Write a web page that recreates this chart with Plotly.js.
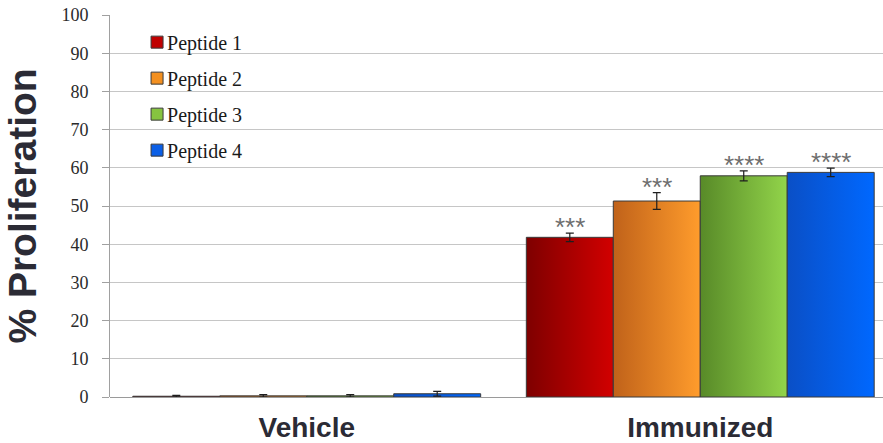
<!DOCTYPE html>
<html>
<head>
<meta charset="utf-8">
<script src="https://cdn.plot.ly/plotly-3.0.1.min.js"></script>
<style>
  html, body { margin: 0; padding: 0; background: #ffffff; }
  #chart { width: 883px; height: 443px; }
</style>
</head>
<body>
<div id="chart"></div>
<script>
// Groups on the x axis and the four peptide series (% proliferation, mean ± error)
const groups = ['Vehicle', 'Immunized'];
const seriesNames = ['Peptide 1', 'Peptide 2', 'Peptide 3', 'Peptide 4'];

const peptide1 = [0.2, 41.8];
const peptide2 = [0.3, 51.3];
const peptide3 = [0.3, 57.9];
const peptide4 = [0.85, 58.8];

const peptide1Err = [0.2, 1.1];
const peptide2Err = [0.3, 2.2];
const peptide3Err = [0.3, 1.3];
const peptide4Err = [0.6, 1.1];

// Significance marks shown above each bar ('' = none)
const peptide1Sig = ['', '***'];
const peptide2Sig = ['', '***'];
const peptide3Sig = ['', '****'];
const peptide4Sig = ['', '****'];

// Y axis ticks
const yTicks = [0, 10, 20, 30, 40, 50, 60, 70, 80, 90, 100];

const values = [peptide1, peptide2, peptide3, peptide4];
const errors = [peptide1Err, peptide2Err, peptide3Err, peptide4Err];
const sigs = [peptide1Sig, peptide2Sig, peptide3Sig, peptide4Sig];

// Solid colours (legend swatches) and left->right gradient stops (bars)
const swatch = ['#c00000', '#f39020', '#86c440', '#0b5fe6'];
const gradStops = [
  ['#7e0000', '#d20000'],
  ['#c0621a', '#ff9c2c'],
  ['#588a28', '#92d44a'],
  ['#0a4fc6', '#0068ff']
];

const BARGAP = 0.116;
const barW = (1 - BARGAP) / seriesNames.length;

const traces = seriesNames.map((name, i) => ({
  type: 'bar',
  name: name,
  x: groups,
  y: values[i],
  legendgroup: 'g' + i,
  marker: { color: swatch[i], line: { color: '#3a3a3a', width: 1 } },
  error_y: { type: 'data', array: errors[i], visible: true,
             color: '#1e1e1e', thickness: 1.2, width: 4 },
  hoverinfo: 'skip'
}));

const annotations = [];
sigs.forEach((row, i) => {
  row.forEach((txt, j) => {
    if (!txt) return;
    annotations.push({
      x: j + (i - (seriesNames.length - 1) / 2) * barW,
      y: values[i][j] + errors[i][j],
      xref: 'x', yref: 'y',
      text: txt, showarrow: false,
      xanchor: 'center', yanchor: 'bottom', yshift: -11,
      font: { family: 'Liberation Sans, Arial, sans-serif', size: 26, color: '#6e6e6e' }
    });
  });
});

const layout = {
  width: 883, height: 443,
  margin: { l: 110, r: 0, t: 15, b: 46 },
  paper_bgcolor: '#ffffff', plot_bgcolor: '#ffffff',
  barmode: 'group', bargap: BARGAP, bargroupgap: 0,
  showlegend: true,
  legend: {
    x: 0.035, y: 0.98, xanchor: 'left', yanchor: 'top',
    bgcolor: 'rgba(0,0,0,0)',
    traceorder: 'grouped', tracegroupgap: 7,
    font: { family: 'Liberation Serif, Times New Roman, serif', size: 20, color: '#1a1a1a' }
  },
  xaxis: {
    type: 'category',
    range: [-0.5, 1.4644],
    showgrid: false, zeroline: false,
    showline: false, ticks: '',
    ticklabelstandoff: 11,
    tickfont: { family: 'Liberation Sans, Arial, sans-serif', size: 28, color: '#2b2b35', weight: 'bold' }
  },
  yaxis: {
    range: [0, 100],
    tickvals: yTicks,
    ticktext: yTicks.map(String),
    showgrid: true, gridcolor: '#c6c6c6', gridwidth: 1,
    zeroline: true, zerolinecolor: '#9a9a9a', zerolinewidth: 1,
    showline: true, linecolor: '#a0a0a0', linewidth: 1,
    ticks: 'outside', ticklen: 7, tickcolor: '#a0a0a0',
    ticklabelstandoff: 10,
    tickfont: { family: 'Liberation Serif, Times New Roman, serif', size: 18, color: '#2a2a2a' },
    title: {
      text: '% Proliferation',
      standoff: 12,
      font: { family: 'Liberation Sans, Arial, sans-serif', size: 39, color: '#2b2b35', weight: 'bold' }
    }
  },
  annotations: annotations
};

Plotly.newPlot('chart', traces, layout, { staticPlot: true, displayModeBar: false }).then(gd => {
  // Shade each bar with a horizontal dark-to-bright gradient
  const svgNS = 'http://www.w3.org/2000/svg';
  const svg = gd.querySelector('svg.main-svg');
  let defs = svg.querySelector('defs');
  if (!defs) { defs = document.createElementNS(svgNS, 'defs'); svg.insertBefore(defs, svg.firstChild); }
  gradStops.forEach((stops, i) => {
    const lg = document.createElementNS(svgNS, 'linearGradient');
    lg.setAttribute('id', 'barShade' + i);
    lg.setAttribute('x1', '0'); lg.setAttribute('y1', '0');
    lg.setAttribute('x2', '1'); lg.setAttribute('y2', '0');
    stops.forEach((c, k) => {
      const st = document.createElementNS(svgNS, 'stop');
      st.setAttribute('offset', k === 0 ? '0' : '1');
      st.setAttribute('stop-color', c);
      lg.appendChild(st);
    });
    defs.appendChild(lg);
  });
  gd.querySelectorAll('.barlayer .trace').forEach((tr, i) => {
    tr.querySelectorAll('.point path').forEach(p => {
      p.style.fill = 'url(#barShade' + i + ')';
    });
  });
  // Tighten the gap between legend swatch and its label
  gd.querySelectorAll('.legend .legendtext').forEach(t => {
    t.setAttribute('x', '30');
  });
});
</script>
</body>
</html>
